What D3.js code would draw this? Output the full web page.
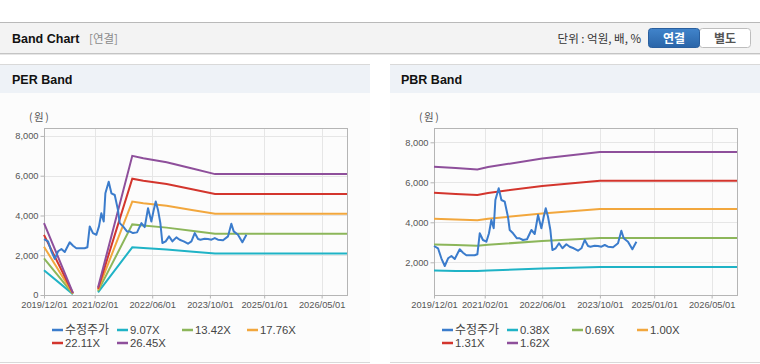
<!DOCTYPE html>
<html>
<head>
<meta charset="utf-8">
<script src="https://cdn.jsdelivr.net/npm/d3@7"></script>
<style>
  body { margin: 0; background: #fff; }
  svg { display: block; }
</style>
</head>
<body>
<div id="anim"></div>
<script>
// adjusted price (수정주가), same series in both charts
const priceDates = ["2019-12-01","2020-01-04","2020-02-01","2020-03-01","2020-03-29","2020-04-26","2020-05-24",
  "2020-07-05","2020-08-02","2020-08-30","2020-11-08","2020-12-01","2020-12-21","2021-01-17","2021-02-15",
  "2021-03-09","2021-03-29","2021-04-18","2021-05-02","2021-05-30","2021-06-22","2021-07-20","2021-08-16",
  "2021-08-31","2021-09-28","2021-10-31","2021-11-23","2021-12-21","2022-01-24","2022-03-02","2022-03-30",
  "2022-04-27","2022-05-11","2022-05-25","2022-06-14","2022-07-01","2022-07-20","2022-08-09","2022-08-26",
  "2022-09-23","2022-10-21","2022-11-19","2022-12-22","2023-01-19","2023-02-22","2023-03-30","2023-04-28",
  "2023-05-26","2023-06-23","2023-07-13","2023-08-18","2023-09-15","2023-10-14","2023-11-11","2023-12-08",
  "2024-01-20","2024-03-02","2024-03-30","2024-04-19","2024-05-25","2024-07-01","2024-08-04"];
const priceValues = [2815,2700,2200,1815,2200,2315,2165,
  2650,2480,2350,2350,2400,3450,3115,3030,
  3450,4115,3700,5115,5700,5115,5030,4280,
  3615,3450,3200,3200,3115,3150,3615,3415,
  4365,4030,3700,4280,4700,4280,3615,2615,
  2700,2950,2700,2900,2780,2700,2580,2700,
  3115,2815,2780,2830,2815,2780,2865,2780,
  2750,2950,3580,3200,3030,2650,3030];

// PER band (null = gap)
const perDates = ["2019-12-01","2020-08-01","2020-11-01","2021-03-01","2021-12-15","2022-03-18","2022-10-01","2023-05-14","2023-11-13","2026-12-01"];
const perNames = ["9.07X","13.42X","17.76X","22.11X","26.45X"];
const per907  = [1241, 45, null, 130, 2400, 2360, 2291, 2178, 2085, 2085];
const per1342 = [1837, 60, null, 193, 3552, 3491, 3389, 3222, 3085, 3085];
const per1776 = [2431, 75, null, 255, 4700, 4620, 4486, 4264, 4083, 4083];
const per2211 = [3026, 95, null, 318, 5852, 5752, 5584, 5309, 5083, 5083];
const per2645 = [3620, 110, null, 380, 7000, 6880, 6680, 6350, 6080, 6080];

// PBR band
const pbrDates = ["2019-12-01","2020-06-01","2020-12-01","2021-03-01","2022-06-01","2023-10-01","2026-12-01"];
const pbrNames = ["0.38X","0.69X","1.00X","1.31X","1.62X"];
const pbr038 = [1590, 1570, 1560, 1590, 1690, 1770, 1770];
const pbr069 = [2890, 2860, 2830, 2880, 3060, 3210, 3210];
const pbr100 = [4180, 4140, 4100, 4175, 4440, 4660, 4660];
const pbr131 = [5480, 5420, 5370, 5470, 5820, 6080, 6080];
const pbr162 = [6780, 6710, 6640, 6760, 7190, 7520, 7520];

const xTicks = ["2019-12-01","2021-02-01","2022-06-01","2023-10-01","2025-01-01","2026-05-01"];
const colors = ["#3b7ccc", "#1fb3c6", "#8cb65a", "#f2a73d", "#d3352d", "#8e4f9b"];
const fontLat = "Arial, 'Liberation Sans', sans-serif";
const fontKr = "'Noto Sans CJK KR', 'Noto Sans', sans-serif";

const parse = d3.timeParse("%Y-%m-%d");

const svg = d3.select("#anim").append("svg")
    .attr("width", 760)
    .attr("height", 364);

// ---- top header bar
svg.append("rect").attr("x", 0).attr("y", 22).attr("width", 760).attr("height", 31).attr("fill", "#f3f3f3");
svg.append("line").attr("x1", 0).attr("x2", 760).attr("y1", 22.5).attr("y2", 22.5).attr("stroke", "#b9b9b9");
svg.append("line").attr("x1", 0).attr("x2", 760).attr("y1", 53.5).attr("y2", 53.5).attr("stroke", "#c4c4c4");
svg.append("line").attr("x1", 0).attr("x2", 760).attr("y1", 54.5).attr("y2", 54.5).attr("stroke", "#e6e6e6");
svg.append("text").attr("x", 12).attr("y", 43).text("Band Chart")
    .attr("font-family", fontLat).attr("font-weight", "bold").attr("font-size", 12.5).attr("fill", "#111");
svg.append("text").attr("x", 89).attr("y", 43).text("[연결]")
    .attr("font-family", fontKr).attr("font-size", 11.5).attr("fill", "#8a8a8a");
svg.append("text").attr("x", 641).attr("y", 43).attr("text-anchor", "end").text("단위 : 억원, 배, %")
    .attr("font-family", fontKr).attr("font-size", 11.5).attr("fill", "#333");

const grad = svg.append("defs").append("linearGradient").attr("id", "btn").attr("x1", 0).attr("x2", 0).attr("y1", 0).attr("y2", 1);
grad.append("stop").attr("offset", "0%").attr("stop-color", "#4184cb");
grad.append("stop").attr("offset", "100%").attr("stop-color", "#2a65a8");
svg.append("rect").attr("x", 699.5).attr("y", 28.5).attr("width", 51).attr("height", 19).attr("rx", 3)
    .attr("fill", "#fff").attr("stroke", "#bdbdbd");
svg.append("rect").attr("x", 648.5).attr("y", 28.5).attr("width", 51).attr("height", 19).attr("rx", 3)
    .attr("fill", "url(#btn)").attr("stroke", "#2a5f9e");
svg.append("text").attr("x", 674).attr("y", 42.5).attr("text-anchor", "middle").text("연결")
    .attr("font-family", fontKr).attr("font-weight", "bold").attr("font-size", 12).attr("fill", "#fff");
svg.append("text").attr("x", 725).attr("y", 42.5).attr("text-anchor", "middle").text("별도")
    .attr("font-family", fontKr).attr("font-weight", "bold").attr("font-size", 12).attr("fill", "#555");

// ---- one band panel
function drawPanel(opt) {
    const g = svg.append("g").attr("transform", `translate(${opt.left},0)`);
    g.append("rect").attr("x", 0).attr("y", 64).attr("width", 370).attr("height", 299).attr("fill", "#fcfcfc");
    g.append("rect").attr("x", 0).attr("y", 64).attr("width", 370).attr("height", 29).attr("fill", "#eef2f7");
    g.append("line").attr("x1", 0).attr("x2", 370).attr("y1", 64.5).attr("y2", 64.5).attr("stroke", "#d9d9d9");
    g.append("line").attr("x1", 0).attr("x2", 370).attr("y1", 362.5).attr("y2", 362.5).attr("stroke", "#d9d9d9");
    g.append("text").attr("x", opt.titleX).attr("y", 84).text(opt.title)
        .attr("font-family", fontLat).attr("font-weight", "bold").attr("font-size", 12.5).attr("fill", "#111");
    g.append("text").attr("x", opt.plotX - 15).attr("y", 121).text("(원)")
        .attr("font-family", fontKr).attr("font-size", 10.5).attr("letter-spacing", 1.5).attr("fill", "#555");

    const x = d3.scaleTime()
        .domain([parse("2019-12-01"), parse("2026-12-01")])
        .range([opt.plotX, opt.plotX + 303]);
    const y = d3.scaleLinear().domain(opt.yDomain).range([295, 128]);

    // grid
    const grid = g.append("g").attr("stroke", "#e6e6e6").attr("stroke-width", 1);
    xTicks.forEach(t => {
        const px = Math.round(x(parse(t))) + 0.5;
        grid.append("line").attr("x1", px).attr("x2", px).attr("y1", 128).attr("y2", 295);
    });
    opt.yTicks.forEach(v => {
        const py = Math.round(y(v)) + 0.5;
        grid.append("line").attr("x1", opt.plotX).attr("x2", opt.plotX + 303).attr("y1", py).attr("y2", py);
    });
    g.append("rect").attr("x", opt.plotX + 0.5).attr("y", 128.5).attr("width", 303).attr("height", 167)
        .attr("fill", "none").attr("stroke", "#b5b5b5");

    // axes
    const yAxis = g.append("g")
        .attr("transform", `translate(${opt.plotX + 0.5},0)`)
        .call(d3.axisLeft(y).tickValues(opt.yTicks).tickSize(4).tickPadding(2).tickFormat(d3.format(",")));
    const xAxis = g.append("g")
        .attr("transform", `translate(0,${295.5})`)
        .call(d3.axisBottom(x).tickValues(xTicks.map(parse)).tickSize(3).tickPadding(3).tickFormat(d3.timeFormat("%Y/%m/%d")));
    [xAxis, yAxis].forEach(a => {
        a.select(".domain").remove();
        a.selectAll("line").attr("stroke", "#b5b5b5");
        a.selectAll("text").attr("fill", "#555").attr("font-family", fontLat).attr("font-size", 9.3);
    });

    const line = d3.line()
        .defined(d => d.v !== null)
        .x(d => x(d.d))
        .y(d => y(d.v));

    // band lines
    opt.bands.forEach((vals, i) => {
        const pts = opt.bandDates.map((d, k) => ({d: parse(d), v: vals[k]}));
        g.append("path").datum(pts)
            .attr("d", line)
            .attr("fill", "none")
            .attr("stroke", colors[i + 1])
            .attr("stroke-width", 2);
    });

    // price
    const pricePts = priceDates.map((d, k) => ({d: parse(d), v: priceValues[k]}));
    g.append("path").datum(pricePts)
        .attr("d", line)
        .attr("fill", "none")
        .attr("stroke", colors[0])
        .attr("stroke-width", 2)
        .attr("stroke-linejoin", "round");

    // legend
    const names = ["수정주가"].concat(opt.names);
    names.forEach((n, i) => {
        const lx = opt.legendX + (i % 4) * 65;
        const ly = i < 4 ? 334 : 347;
        g.append("line").attr("x1", lx).attr("x2", lx + 11).attr("y1", ly - 4).attr("y2", ly - 4)
            .attr("stroke", colors[i]).attr("stroke-width", 2.5);
        g.append("text").attr("x", lx + 13).attr("y", ly).text(n)
            .attr("font-family", i === 0 ? fontKr : fontLat)
            .attr("font-size", i === 0 ? 12 : 11.3)
            .attr("fill", "#444");
    });
}

drawPanel({
    left: 0, title: "PER Band", titleX: 12, plotX: 44,
    yDomain: [0, 8400], yTicks: [0, 2000, 4000, 6000, 8000],
    bandDates: perDates, bands: [per907, per1342, per1776, per2211, per2645],
    names: perNames, legendX: 52
});
drawPanel({
    left: 390, title: "PBR Band", titleX: 11, plotX: 44,
    yDomain: [365, 8715], yTicks: [2000, 4000, 6000, 8000],
    bandDates: pbrDates, bands: [pbr038, pbr069, pbr100, pbr131, pbr162],
    names: pbrNames, legendX: 52
});
</script>
</body>
</html>
